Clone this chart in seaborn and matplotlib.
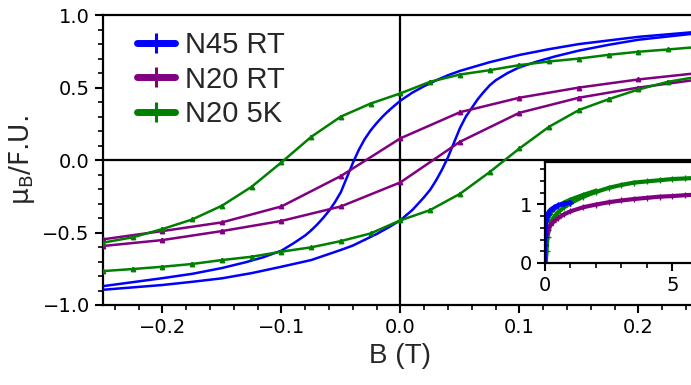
import numpy as np
import pandas as pd
import matplotlib.pyplot as plt
import seaborn as sns
from matplotlib.lines import Line2D
from matplotlib.ticker import MultipleLocator

# Hysteresis loops (B in T, moment in mu_B per formula unit)
# N45 RT - descending branch then ascending branch
n45_up_B = [0.25, 0.2, 0.175, 0.15, 0.125, 0.1, 0.075, 0.05, 0.04, 0.03, 0.02, 0.01, 0.0,
            -0.005, -0.01, -0.015, -0.02, -0.025, -0.03, -0.035, -0.04, -0.045, -0.05, -0.055,
            -0.06, -0.065, -0.07, -0.075, -0.08, -0.09, -0.1, -0.115, -0.13, -0.15, -0.175, -0.2, -0.25]
n45_up_M = [0.885, 0.85, 0.825, 0.80, 0.765, 0.725, 0.675, 0.615, 0.585, 0.55, 0.51, 0.465, 0.41,
            0.375, 0.34, 0.30, 0.255, 0.205, 0.145, 0.07, -0.02, -0.12, -0.22, -0.29,
            -0.35, -0.40, -0.445, -0.485, -0.52, -0.575, -0.625, -0.67, -0.705, -0.745, -0.785, -0.815, -0.87]
n45_dn_B = [-0.25, -0.2, -0.175, -0.15, -0.125, -0.1, -0.075, -0.05, -0.04, -0.03, -0.02, -0.01, 0.0,
            0.005, 0.01, 0.015, 0.02, 0.025, 0.03, 0.035, 0.04, 0.045, 0.05, 0.055,
            0.06, 0.065, 0.07, 0.075, 0.08, 0.09, 0.1, 0.115, 0.13, 0.15, 0.175, 0.2, 0.25]
n45_dn_M = [-0.895, -0.862, -0.84, -0.816, -0.78, -0.736, -0.69, -0.62, -0.59, -0.55, -0.51, -0.465, -0.415,
            -0.38, -0.345, -0.30, -0.255, -0.205, -0.14, -0.065, 0.02, 0.12, 0.22, 0.30,
            0.36, 0.42, 0.47, 0.515, 0.55, 0.60, 0.64, 0.68, 0.715, 0.755, 0.795, 0.83, 0.875]

# N20 RT
n20rt_up_B = [0.25, 0.2, 0.15, 0.1, 0.05, 0.0, -0.05, -0.1, -0.15, -0.2, -0.25]
n20rt_up_M = [0.60, 0.556, 0.50, 0.43, 0.33, 0.15, -0.11, -0.32, -0.43, -0.49, -0.547]
n20rt_dn_B = [-0.25, -0.2, -0.15, -0.1, -0.05, 0.0, 0.05, 0.1, 0.15, 0.2, 0.25]
n20rt_dn_M = [-0.593, -0.552, -0.49, -0.42, -0.32, -0.154, 0.126, 0.326, 0.43, 0.50, 0.555]

# N20 5K
n20k_up_B = [0.25, 0.225, 0.2, 0.175, 0.15, 0.125, 0.1, 0.075, 0.05, 0.025, 0.0,
             -0.025, -0.05, -0.075, -0.1, -0.125, -0.15, -0.175, -0.2, -0.225, -0.25]
n20k_up_M = [0.78, 0.763, 0.747, 0.726, 0.70, 0.68, 0.655, 0.62, 0.59, 0.54, 0.46,
             0.39, 0.30, 0.16, -0.016, -0.184, -0.315, -0.41, -0.476, -0.533, -0.57]
n20k_dn_B = [-0.25, -0.225, -0.2, -0.175, -0.15, -0.125, -0.1, -0.075, -0.05, -0.025, 0.0,
             0.025, 0.05, 0.075, 0.1, 0.125, 0.15, 0.175, 0.2, 0.225, 0.25]
n20k_dn_M = [-0.766, -0.752, -0.736, -0.717, -0.69, -0.667, -0.632, -0.602, -0.559, -0.506, -0.416,
             -0.345, -0.233, -0.083, 0.08, 0.23, 0.345, 0.42, 0.487, 0.54, 0.575]

# Inset: high-field magnetisation
ins_n45_B = [0.0, 0.005, 0.01, 0.02, 0.04, 0.06, 0.1, 0.2, 0.35, 0.5, 0.75, 1.0]
ins_n45_M = [0.0, 0.3, 0.5, 0.62, 0.72, 0.78, 0.84, 0.9, 0.95, 0.98, 1.01, 1.03]
ins_n45b_B = [0.0, 0.02, 0.05, 0.1, 0.2, 0.35, 0.5, 0.75, 1.0]
ins_n45b_M = [0.45, 0.62, 0.74, 0.82, 0.89, 0.94, 0.98, 1.01, 1.03]
ins_n20rt_B = [0.05, 0.1, 0.2, 0.3, 0.5, 0.75, 1.0, 1.5, 2.0, 2.5, 3.0, 3.5, 4.0, 4.5, 5.0, 5.5, 6.0]
ins_n20rt_M = [0.45, 0.56, 0.64, 0.69, 0.76, 0.83, 0.88, 0.95, 0.995, 1.035, 1.065, 1.09, 1.11,
               1.13, 1.14, 1.155, 1.165]
ins_n20k_B = [0.03, 0.06, 0.1, 0.2, 0.35, 0.5, 0.75, 1.0, 1.5, 2.0, 2.5, 3.0, 3.5, 4.0, 4.5, 5.0, 5.5, 6.0]
ins_n20k_M = [0.0, 0.2, 0.45, 0.65, 0.78, 0.86, 0.95, 1.02, 1.13, 1.21, 1.28, 1.33, 1.37, 1.39,
              1.41, 1.43, 1.44, 1.45]
ins_n20kb_B = [0.0, 0.1, 0.2, 0.35, 0.5, 0.75, 1.0, 1.5, 2.0]
ins_n20kb_M = [0.6, 0.75, 0.84, 0.92, 0.97, 1.03, 1.08, 1.16, 1.23]

blue, purple, green = '#0000ff', '#800080', '#008000'

sns.set_theme(style='ticks')
plt.rcParams['font.family'] = ['DejaVu Sans']
plt.rcParams.update({
    'axes.linewidth': 1.6, 'axes.edgecolor': 'black',
    'xtick.major.size': 6, 'ytick.major.size': 6,
    'xtick.minor.size': 3.5, 'ytick.minor.size': 3.5,
    'xtick.major.width': 1.5, 'ytick.major.width': 1.5,
    'xtick.minor.width': 1.2, 'ytick.minor.width': 1.2,
    'xtick.color': 'black', 'ytick.color': 'black',
})

fig = plt.figure(figsize=(6.91, 3.85), dpi=100)
ax = fig.add_axes([0.149, 0.2078, 0.861, 0.753])

ax.axhline(0, color='black', lw=1.6, zorder=1)
ax.axvline(0, color='black', lw=1.6, zorder=1)

loops = [
    (n45_up_B, n45_up_M, blue, 0.006, None),
    (n45_dn_B, n45_dn_M, blue, 0.006, None),
    (n20rt_up_B, n20rt_up_M, purple, 0.012, '^'),
    (n20rt_dn_B, n20rt_dn_M, purple, 0.012, '^'),
    (n20k_up_B, n20k_up_M, green, 0.012, '^'),
    (n20k_dn_B, n20k_dn_M, green, 0.012, '^'),
]
for bx, my, c, err, mk in loops:
    sns.lineplot(x=bx, y=my, ax=ax, color=c, lw=1.8, sort=False, estimator=None, zorder=3)
    ax.errorbar(bx, my, yerr=err, fmt='none', ecolor=c, elinewidth=1.1, zorder=3)
    if mk:
        ax.plot(bx, my, ls='none', marker=mk, ms=3.2, color=c, zorder=3)

ax.set_xlim(-0.25, 0.25)
ax.set_ylim(-1.0, 1.0)
ax.xaxis.set_major_locator(MultipleLocator(0.1))
ax.xaxis.set_minor_locator(MultipleLocator(0.02))
ax.yaxis.set_major_locator(MultipleLocator(0.5))
ax.yaxis.set_minor_locator(MultipleLocator(0.1))
ax.tick_params(labelsize=14)
ax.set_xlabel('B (T)', fontsize=20, family='Liberation Sans')
ax.set_ylabel(r'$\mathregular{\mu_B}$/F.U.', fontsize=19)

handles = [Line2D([0], [0], color=c, lw=5, marker='|', markersize=15, mew=2.2)
           for c in (blue, purple, green)]
ax.legend(handles, ['N45 RT', 'N20 RT', 'N20 5K'], loc='upper left', frameon=False,
          prop={'family': 'Liberation Sans', 'size': 21}, handlelength=1.3,
          handletextpad=0.35, labelspacing=0.22, borderaxespad=0,
          bbox_to_anchor=(0.038, 0.985))

# inset
axi = fig.add_axes([0.7887, 0.3169, 0.2214, 0.2623])
axi.set_facecolor('white')
for bx, my, c in [(ins_n20k_B, ins_n20k_M, green), (ins_n20kb_B, ins_n20kb_M, green),
                  (ins_n20rt_B, ins_n20rt_M, purple),
                  (ins_n45_B, ins_n45_M, blue), (ins_n45b_B, ins_n45b_M, blue)]:
    sns.lineplot(x=bx, y=my, ax=axi, color=c, lw=3, sort=False, estimator=None)
    axi.plot(bx, my, ls='none', marker='+', ms=4, color=c)
axi.set_xlim(0, 6)
axi.set_ylim(0, 1.72)
axi.xaxis.set_major_locator(MultipleLocator(5))
axi.xaxis.set_minor_locator(MultipleLocator(1))
axi.yaxis.set_major_locator(MultipleLocator(1))
axi.yaxis.set_minor_locator(MultipleLocator(0.2))
axi.tick_params(labelsize=14)

fig.savefig('out.png', dpi=100)
